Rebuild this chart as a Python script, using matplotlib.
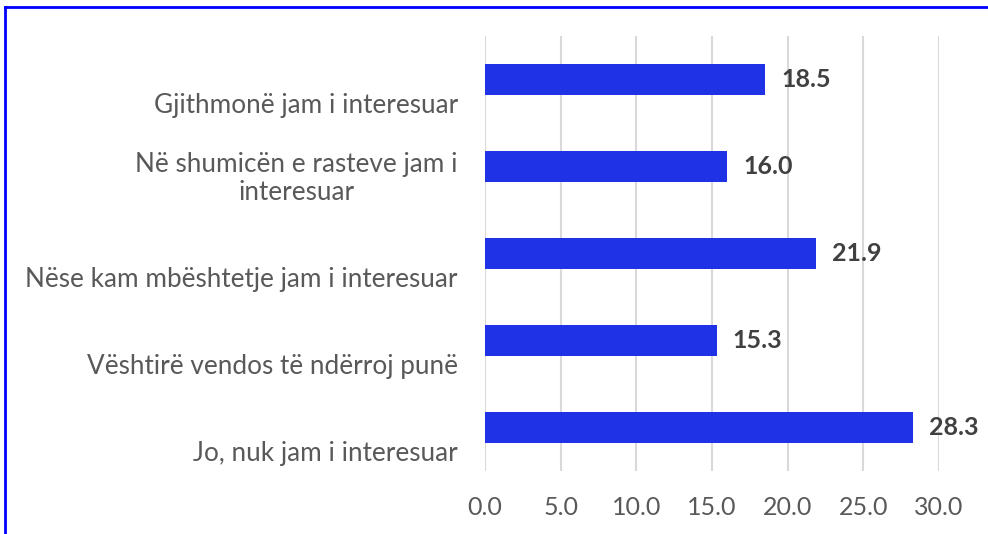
import matplotlib
matplotlib.use("Agg")
import matplotlib.pyplot as plt
import matplotlib.transforms as mtransforms
from matplotlib.lines import Line2D

categories = [
    "Gjithmonë jam i interesuar",
    "Në shumicën e rasteve jam i\ninteresuar",
    "Nëse kam mbështetje jam i interesuar",
    "Vështirë vendos të ndërroj punë",
    "Jo, nuk jam i interesuar",
]
values = [18.5, 16.0, 21.9, 15.3, 28.3]
xticks = [0, 5, 10, 15, 20, 25, 30]

plt.rcParams['font.family'] = ['Lato', 'DejaVu Sans']

fig = plt.figure(figsize=(9.88, 5.34), dpi=100)
ax = fig.add_axes([485/988, 1 - 471/534, (939 - 485)/988, (471 - 36)/534])

pos = list(range(len(categories)))
ax.barh(pos, values, height=0.345, color='#1F32E6', zorder=3)
ax.set_ylim(len(categories) - 0.5, -0.5)
ax.set_xlim(0, 30)
ax.set_xticks(xticks)
ax.set_xticklabels([f"{t:.1f}" for t in xticks])
ax.xaxis.grid(True, color='#D9D9D9', linewidth=1.5, zorder=0)
for s in ax.spines.values():
    s.set_visible(False)
ax.tick_params(axis='x', length=0, pad=18, labelsize=18, labelcolor='#595959')
ax.tick_params(axis='y', length=0, pad=19.5, labelsize=18.8, labelcolor='#595959')
ax.set_yticks(pos)
ax.set_yticklabels(categories)
off = mtransforms.ScaledTranslation(0, -38/100, fig.dpi_scale_trans)
for lab in ax.get_yticklabels():
    lab.set_verticalalignment('bottom')
    lab.set_multialignment('center')
    lab.set_linespacing(1.15)
    lab.set_transform(lab.get_transform() + off)

toff = mtransforms.ScaledTranslation(16/100, 0, fig.dpi_scale_trans)
for i, v in enumerate(values):
    ax.text(v, i, f"{v:.1f}", transform=ax.transData + toff, va='center', ha='left',
            fontsize=18, fontweight='bold', color='#404040')

bx = 5/988
by = 1 - 7/534
fig.add_artist(Line2D([bx, 1.0], [by, by], transform=fig.transFigure, color='#0000FF', linewidth=2))
fig.add_artist(Line2D([bx, bx], [0, by], transform=fig.transFigure, color='#0000FF', linewidth=2))

fig.savefig('out.png', dpi=100)
